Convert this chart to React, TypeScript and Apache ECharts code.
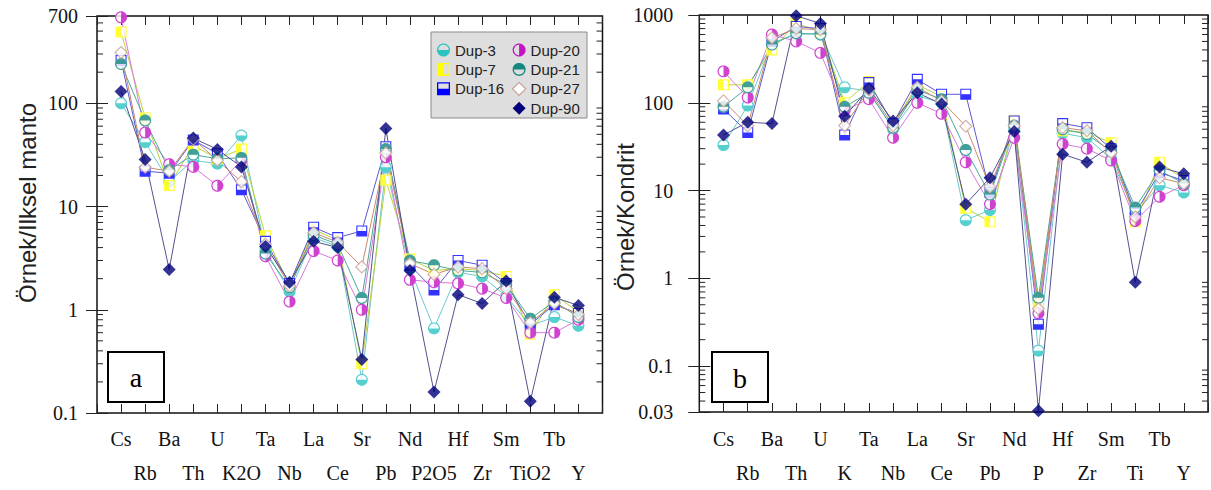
import React, { useEffect, useRef } from 'react';
import * as echarts from 'echarts';

// ---------- data ----------
const catsA = ['Cs', 'Rb', 'Ba', 'Th', 'U', 'K2O', 'Ta', 'Nb', 'La', 'Ce', 'Sr', 'Pb', 'Nd', 'P2O5', 'Hf', 'Zr', 'Sm', 'TiO2', 'Tb', 'Y'];
const catsB = ['Cs', 'Rb', 'Ba', 'Th', 'U', 'K', 'Ta', 'Nb', 'La', 'Ce', 'Sr', 'Pb', 'Nd', 'P', 'Hf', 'Zr', 'Sm', 'Ti', 'Tb', 'Y'];

const yRangeA = [0.1, 700];
const yRangeB = [0.03, 1000];

const sampleNames = ['Dup-3', 'Dup-7', 'Dup-16', 'Dup-20', 'Dup-21', 'Dup-27', 'Dup-90'];

// Panel a: sample / primitive mantle
const a3 = [100, 42, 17.4, 28, 26, 48.7, 3.8, 1.5, 5.0, 4.1, 0.21, 24, 2.5, 0.66, 2.3, 2.1, 1.35, 0.7, 0.85, 0.7];
const a7 = [490, 72, 16, 39, 29, 36, 5.2, 1.75, 6.0, 4.7, 0.3, 18, 3.1, 2.4, 2.5, 2.4, 2.1, 0.58, 1.4, 0.95];
const a16 = [260, 22, 21, 44, 32.5, 14.5, 4.6, 1.8, 6.3, 5.0, 5.8, 38, 2.7, 1.55, 3.0, 2.7, 1.8, 0.72, 1.12, 0.92];
const a20 = [680, 52, 25.7, 24.2, 15.9, 28, 3.3, 1.2, 3.7, 3.0, 1.0, 30, 1.95, 1.85, 1.8, 1.6, 1.3, 0.6, 0.6, 0.8];
const a21 = [240, 68, 22.5, 31.8, 29, 29.6, 3.5, 1.65, 5.3, 4.3, 1.3, 36, 3.0, 2.7, 2.4, 2.3, 1.75, 0.82, 1.2, 0.85];
const a27 = [310, 24, 22, 45, 28, 17.4, 4.3, 1.7, 5.6, 4.5, 2.6, 33, 2.8, 2.2, 2.6, 2.5, 1.6, 0.75, 1.15, 0.9];
const a90 = [130, 28.5, 2.45, 46, 35.7, 24.2, 4.1, 1.85, 4.6, 4.0, 0.33, 57, 2.4, 0.16, 1.4, 1.15, 1.9, 0.13, 1.32, 1.1];

// Panel b: sample / chondrite
const b3 = [33, 93, 480, 600, 620, 150, 135, 50, 120, 100, 4.6, 6, 50, 0.15, 45, 40, 23, 5.5, 11.5, 9.5];
const b7 = [160, 160, 400, 800, 650, 100, 175, 56, 160, 118, 6.3, 4.4, 63, 0.5, 48, 46, 35, 4.4, 21, 13.5];
const b16 = [85, 46, 500, 740, 700, 43, 170, 58, 185, 125, 125, 9.5, 62, 0.3, 58, 52, 30, 5.5, 16, 13];
const b20 = [228, 115, 600, 500, 370, 82, 110, 40, 100, 75, 21, 7, 40, 0.4, 34, 30, 22, 4.5, 8.5, 11.5];
const b21 = [90, 150, 460, 620, 600, 90, 130, 52, 140, 110, 29, 9, 55, 0.6, 50, 44, 28, 6.4, 17, 12];
const b27 = [105, 55, 550, 700, 680, 55, 140, 55, 150, 105, 54, 11, 55, 0.45, 52, 48, 27, 5, 14, 12];
const b90 = [43, 60, 58, 980, 800, 70, 145, 62, 130, 97, 7, 14, 47, 0.031, 26, 21, 32, 0.9, 18.5, 15.5];

const valuesA = [a3, a7, a16, a20, a21, a27, a90];
const valuesB = [b3, b7, b16, b20, b21, b27, b90];

// ---------- symbol shapes ----------
const W = 0.2;
const f = (n: number) => (Math.round(n * 1000) / 1000).toString();
function arc(r: number, a0: number, a1: number, n = 20) {
  const pts: number[][] = [];
  for (let i = 0; i <= n; i++) {
    const a = a0 + ((a1 - a0) * i) / n;
    pts.push([r * Math.cos(a), r * Math.sin(a)]);
  }
  return pts;
}
function poly(pts: number[][]) {
  return 'M' + pts.map((p) => f(p[0]) + ',' + f(p[1])).join('L') + 'Z';
}
function halfCircle(start: number) {
  const fill = poly(arc(1, start, start + Math.PI));
  const outer = arc(1, start + Math.PI, start + 2 * Math.PI);
  const inner = arc(1 - W, start + 2 * Math.PI, start + Math.PI);
  return 'path://' + fill + poly(outer.concat(inner));
}
const squareBottom =
  'path://' +
  poly([[-1, 0], [1, 0], [1, 1], [-1, 1]]) +
  poly([[-1, 0], [-1, -1], [1, -1], [1, 0], [1 - W, 0], [1 - W, -1 + W], [-1 + W, -1 + W], [-1 + W, 0]]);
const squareLeft =
  'path://' +
  poly([[-1, -1], [0, -1], [0, 1], [-1, 1]]) +
  poly([[0, -1], [1, -1], [1, 1], [0, 1], [0, 1 - W], [1 - W, 1 - W], [1 - W, -1 + W], [0, -1 + W]]);

type Look = { color: string; line: string; base: string; size: number; half?: string; hollow?: boolean };
const looks: Record<string, Look> = {
  'Dup-3': { color: '#2cc3c3', line: '#6cc9cf', base: 'circle', size: 12, half: halfCircle(0) },
  'Dup-7': { color: '#ffff00', line: '#b9d33c', base: 'rect', size: 11, half: squareLeft },
  'Dup-16': { color: '#0000ff', line: '#5a5ad0', base: 'rect', size: 11, half: squareBottom },
  'Dup-20': { color: '#c414c4', line: '#d77ad7', base: 'circle', size: 12, half: halfCircle(-Math.PI / 2) },
  'Dup-21': { color: '#14877f', line: '#4aa89c', base: 'circle', size: 12, half: halfCircle(Math.PI) },
  'Dup-27': { color: '#c9a196', line: '#c98a6a', base: 'diamond', size: 12, hollow: true },
  'Dup-90': { color: '#00007a', line: '#52528f', base: 'diamond', size: 13 },
};

function buildSeries(panel: number, values: number[][], range: number[]) {
  const idx = panel * 2;
  const out: any[] = [];
  sampleNames.forEach((name, k) => {
    const lk = looks[name];
    out.push({
      type: 'line', name, xAxisIndex: idx, yAxisIndex: idx, silent: true, z: 2,
      data: values[k].map((v, i) => [i + 1, v]), symbol: 'none',
      lineStyle: { color: lk.line, width: 1 },
    });
  });
  sampleNames.forEach((name, k) => {
    const lk = looks[name];
    const d = values[k].map((v, i) => [i + 1, v]);
    out.push({
      type: 'scatter', name, xAxisIndex: idx, yAxisIndex: idx, silent: true, z: 3,
      data: d, symbol: lk.base, symbolSize: lk.size,
      itemStyle: lk.half
        ? { color: '#ffffff', borderWidth: 0 }
        : lk.hollow
        ? { color: '#ffffff', borderColor: lk.color, borderWidth: 1.2 }
        : { color: lk.color, borderWidth: 0 },
    });
    if (lk.half) {
      out.push({
        type: 'scatter', name, xAxisIndex: idx, yAxisIndex: idx, silent: true, z: 3,
        data: d, symbol: lk.half, symbolSize: lk.size,
        itemStyle: { color: lk.color, borderWidth: 0 },
      });
    }
  });
  // log-scale minor ticks (2..9 of each decade) on both sides
  const minors: number[][] = [];
  for (let e = -3; e <= 4; e++) {
    for (let m = 2; m <= 9; m++) {
      const v = parseFloat((m * Math.pow(10, e)).toPrecision(3));
      if (v > range[0] * 1.0001 && v < range[1] * 0.9999) minors.push([0, v]);
    }
  }
  out.push({
    type: 'custom', xAxisIndex: idx, yAxisIndex: idx, silent: true, z: 1, data: minors,
    renderItem: (_p: any, api: any) => {
      const v = api.value(1);
      const a = api.coord([0, v]);
      const b = api.coord([21, v]);
      return {
        type: 'group',
        children: [
          { type: 'line', shape: { x1: a[0], y1: a[1], x2: a[0] + 6, y2: a[1] }, style: { stroke: '#222', lineWidth: 1 } },
          { type: 'line', shape: { x1: b[0] - 6, y1: b[1], x2: b[0], y2: b[1] }, style: { stroke: '#222', lineWidth: 1 } },
        ],
      };
    },
  });
  return out;
}

const serif = 'Liberation Serif';
const sans = 'Liberation Sans';

function xAxis(gridIndex: number, position: string, cats: string[] | null, margin = 9) {
  return {
    type: 'value', gridIndex, position, min: 0, max: 21, interval: 1,
    axisLine: { show: false, onZero: false }, splitLine: { show: false },
    axisTick: { show: true, inside: true, length: 9, lineStyle: { color: '#222', width: 1 } },
    axisLabel: cats
      ? {
          show: true, margin, fontFamily: serif, fontSize: 20, color: '#111', lineHeight: 34,
          formatter: (v: number) => {
            const i = Math.round(v);
            if (i < 1 || i > cats.length) return '';
            return i % 2 === 1 ? cats[i - 1] : '\n' + cats[i - 1];
          },
        }
      : { show: false },
  };
}

function yAxis(gridIndex: number, position: string, range: number[], margin: number | null) {
  return {
    type: 'log', logBase: 10, gridIndex, position, min: range[0], max: range[1],
    axisLine: { show: false }, splitLine: { show: false },
    axisTick: { show: true, inside: true, length: 11, lineStyle: { color: '#222', width: 1 } },
    axisLabel:
      margin !== null
        ? {
            show: true, margin, fontFamily: serif, fontSize: 20, color: '#111',
            formatter: (v: number) => String(parseFloat(Number(v).toPrecision(6))),
          }
        : { show: false },
  };
}

function legendItems(names: string[]) {
  return names.map((name) => {
    const lk = looks[name];
    if (lk.half) return { name, icon: lk.half, itemStyle: { color: lk.color, borderWidth: 0 } };
    if (lk.hollow) return { name, icon: 'diamond', itemStyle: { color: '#ffffff', borderColor: lk.color, borderWidth: 1.2 } };
    return { name, icon: 'diamond', itemStyle: { color: lk.color, borderWidth: 0 } };
  });
}

const legendCommon = {
  orient: 'vertical', top: 42.5, itemWidth: 13, itemHeight: 13, itemGap: 4.4, padding: 0,
  selectedMode: false, textStyle: { fontFamily: sans, fontSize: 15, color: '#222' },
};

const option: any = {
  animation: false,
  backgroundColor: '#ffffff',
  grid: [
    { left: 97, top: 16, width: 505.5, height: 401, show: true, borderColor: '#111', borderWidth: 1.5 },
    { left: 699.3, top: 15, width: 511, height: 399, show: true, borderColor: '#111', borderWidth: 1.5 },
  ],
  xAxis: [
    xAxis(0, 'bottom', catsA, 9),
    xAxis(0, 'top', null),
    xAxis(1, 'bottom', catsB, 10),
    xAxis(1, 'top', null),
  ],
  yAxis: [
    yAxis(0, 'left', yRangeA, 19),
    yAxis(0, 'right', yRangeA, null),
    yAxis(1, 'left', yRangeB, 26),
    yAxis(1, 'right', yRangeB, null),
  ],
  legend: [
    { ...legendCommon, left: 437, data: legendItems(['Dup-3', 'Dup-7', 'Dup-16']) },
    { ...legendCommon, left: 512, data: legendItems(['Dup-20', 'Dup-21', 'Dup-27', 'Dup-90']) },
  ],
  graphic: [
    { type: 'rect', shape: { x: 431, y: 32, width: 156, height: 86 }, style: { fill: '#dedede', stroke: '#8a8a8a', lineWidth: 1 }, z: 0 },
    { type: 'text', x: 27, y: 203, rotation: Math.PI / 2, style: { text: 'Örnek/Ilksel manto', fontSize: 24, fontFamily: sans, fill: '#222', align: 'center', verticalAlign: 'middle' } },
    { type: 'text', x: 625, y: 217, rotation: Math.PI / 2, style: { text: 'Örnek/Kondrit', fontSize: 24, fontFamily: sans, fill: '#222', align: 'center', verticalAlign: 'middle' } },
    { type: 'rect', shape: { x: 108, y: 352, width: 56, height: 50 }, style: { fill: '#ffffff', stroke: '#000', lineWidth: 2 }, z: 10 },
    { type: 'text', x: 136, y: 377, z: 11, style: { text: 'a', fontSize: 28, fontFamily: serif, fill: '#000', align: 'center', verticalAlign: 'middle' } },
    { type: 'rect', shape: { x: 712, y: 352, width: 56, height: 50 }, style: { fill: '#ffffff', stroke: '#000', lineWidth: 2 }, z: 10 },
    { type: 'text', x: 740, y: 378, z: 11, style: { text: 'b', fontSize: 28, fontFamily: serif, fill: '#000', align: 'center', verticalAlign: 'middle' } },
  ],
  series: [...buildSeries(0, valuesA, yRangeA), ...buildSeries(1, valuesB, yRangeB)],
};

export default function App() {
  const ref = useRef<HTMLDivElement>(null);
  useEffect(() => {
    const chart = echarts.init(ref.current as HTMLDivElement, null, { renderer: 'svg' });
    chart.setOption(option);
    return () => chart.dispose();
  }, []);
  return (
    <div
      ref={ref}
      style={{ position: 'fixed', left: 0, top: 0, width: 1211, height: 490, background: '#ffffff' }}
    />
  );
}
